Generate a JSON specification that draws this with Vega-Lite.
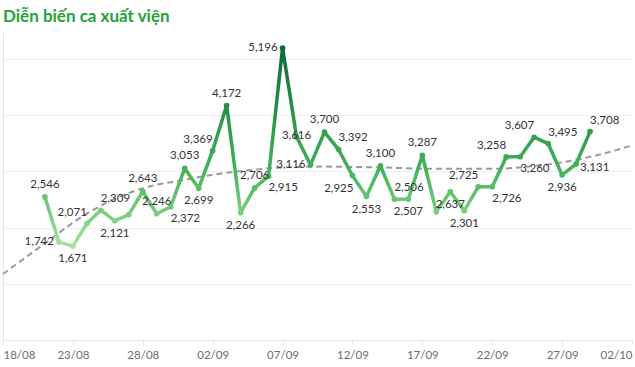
{
  "$schema": "https://vega.github.io/schema/vega-lite/v6.json",
  "width": 629,
  "height": 308,
  "autosize": {"type": "none"},
  "padding": {"left": 3, "top": 32, "right": 3, "bottom": 27},
  "background": "white",
  "config": {"view": {"stroke": null}},
  "title": {
    "text": "Diễn biến ca xuất viện",
    "anchor": "start",
    "font": "Lato",
    "fontSize": 17,
    "fontWeight": "bold",
    "color": "#22a336",
    "baseline": "alphabetic",
    "offset": 12,
    "dx": 4,
    "dy": 19
  },
  "data": {
    "values": [
      {"date": "2021-08-21", "value": 2546},
      {"date": "2021-08-22", "value": 1742},
      {"date": "2021-08-23", "value": 1671},
      {"date": "2021-08-24", "value": 2071},
      {"date": "2021-08-25", "value": 2309},
      {"date": "2021-08-26", "value": 2121},
      {"date": "2021-08-27", "value": 2230},
      {"date": "2021-08-28", "value": 2643},
      {"date": "2021-08-29", "value": 2246},
      {"date": "2021-08-30", "value": 2372},
      {"date": "2021-08-31", "value": 3053},
      {"date": "2021-09-01", "value": 2699},
      {"date": "2021-09-02", "value": 3369},
      {"date": "2021-09-03", "value": 4172},
      {"date": "2021-09-04", "value": 2266},
      {"date": "2021-09-05", "value": 2706},
      {"date": "2021-09-06", "value": 2915},
      {"date": "2021-09-07", "value": 5196},
      {"date": "2021-09-08", "value": 3616},
      {"date": "2021-09-09", "value": 3116},
      {"date": "2021-09-10", "value": 3700},
      {"date": "2021-09-11", "value": 3392},
      {"date": "2021-09-12", "value": 2925},
      {"date": "2021-09-13", "value": 2553},
      {"date": "2021-09-14", "value": 3100},
      {"date": "2021-09-15", "value": 2506},
      {"date": "2021-09-16", "value": 2507},
      {"date": "2021-09-17", "value": 3287},
      {"date": "2021-09-18", "value": 2280},
      {"date": "2021-09-19", "value": 2637},
      {"date": "2021-09-20", "value": 2301},
      {"date": "2021-09-21", "value": 2725},
      {"date": "2021-09-22", "value": 2726},
      {"date": "2021-09-23", "value": 3258},
      {"date": "2021-09-24", "value": 3260},
      {"date": "2021-09-25", "value": 3607},
      {"date": "2021-09-26", "value": 3495},
      {"date": "2021-09-27", "value": 2936},
      {"date": "2021-09-28", "value": 3131},
      {"date": "2021-09-29", "value": 3708}
    ]
  },
  "encoding": {
    "x": {
      "field": "date",
      "type": "temporal",
      "scale": {"type": "utc", "domain": [1629244800000, 1633132800000], "nice": false},
      "axis": {
        "title": null,
        "values": [1629244800000, 1629676800000, 1630108800000, 1630540800000, 1630972800000, 1631404800000, 1631836800000, 1632268800000, 1632700800000, 1633132800000],
        "format": "%d/%m",
        "labelFlush": true,
        "grid": false,
        "domainColor": "#e6e6e6",
        "tickColor": "#e6e6e6",
        "tickSize": 5,
        "labelColor": "#6e6e6e",
        "labelFont": "Lato",
        "labelFontSize": 11.5,
        "labelPadding": 4
      }
    },
    "y": {
      "field": "value",
      "type": "quantitative",
      "scale": {"domain": [0, 5480], "nice": false, "zero": true},
      "axis": {
        "title": null,
        "values": [0, 1000, 2000, 3000, 4000, 5000],
        "labels": false,
        "ticks": false,
        "grid": true,
        "gridColor": "#ededed",
        "domainColor": "#e6e6e6"
      }
    }
  },
  "layer": [
    {
      "data": {
        "values": [
          {"date": "2021-08-18", "value": 1174},
          {"date": "2021-08-21", "value": 1720},
          {"date": "2021-08-24", "value": 2250},
          {"date": "2021-08-28", "value": 2700},
          {"date": "2021-08-31", "value": 2850},
          {"date": "2021-09-02", "value": 2940},
          {"date": "2021-09-05", "value": 3030},
          {"date": "2021-09-07", "value": 3070},
          {"date": "2021-09-10", "value": 3085},
          {"date": "2021-09-14", "value": 3070},
          {"date": "2021-09-18", "value": 3045},
          {"date": "2021-09-22", "value": 3045},
          {"date": "2021-09-25", "value": 3095},
          {"date": "2021-09-27", "value": 3160},
          {"date": "2021-09-30", "value": 3320},
          {"date": "2021-10-02", "value": 3461}
        ]
      },
      "mark": {"type": "line", "color": "#9a9a9a", "strokeDash": [6, 4], "strokeWidth": 2, "interpolate": "monotone"}
    },
    {
      "mark": {
        "type": "line",
        "strokeWidth": 3.5,
        "strokeJoin": "round",
        "stroke": {
          "gradient": "linear",
          "x1": 0, "y1": 0, "x2": 0, "y2": 1,
          "stops": [
            {"offset": 0, "color": "#0a6b35"},
            {"offset": 0.62, "color": "#44b45a"},
            {"offset": 1, "color": "#a6e29c"}
          ]
        }
      }
    },
    {
      "mark": {"type": "circle", "size": 32, "opacity": 1},
      "encoding": {
        "color": {
          "field": "value",
          "type": "quantitative",
          "scale": {"domain": [1671, 3000, 5196], "range": ["#a6e29c", "#44b45a", "#0a6b35"], "interpolate": "rgb"},
          "legend": null
        }
      }
    },
    {
      "transform": [{"filter": {"field": "value", "oneOf": [2546, 2643, 2246, 3053, 4172, 2706, 3700, 3100, 3287]}}],
      "mark": {"type": "text", "font": "Lato", "fontSize": 11.5, "color": "#333333", "align": "center", "baseline": "middle", "dy": -12},
      "encoding": {"text": {"field": "value", "type": "quantitative", "format": ","}}
    },
    {
      "transform": [{"filter": {"field": "value", "oneOf": [1671, 2121, 2699, 2266, 2553, 2637, 2301, 2936, 2507]}}],
      "mark": {"type": "text", "font": "Lato", "fontSize": 11.5, "color": "#333333", "align": "center", "baseline": "middle", "dy": 13},
      "encoding": {"text": {"field": "value", "type": "quantitative", "format": ","}}
    },
    {
      "transform": [{"filter": {"field": "value", "oneOf": [1742, 5196, 3116]}}],
      "mark": {"type": "text", "font": "Lato", "fontSize": 11.5, "color": "#333333", "align": "right", "baseline": "middle", "dx": -5, "dy": 0},
      "encoding": {"text": {"field": "value", "type": "quantitative", "format": ","}}
    },
    {
      "transform": [{"filter": {"field": "value", "oneOf": [3131]}}],
      "mark": {"type": "text", "font": "Lato", "fontSize": 11.5, "color": "#333333", "align": "left", "baseline": "middle", "dx": 4, "dy": 4},
      "encoding": {"text": {"field": "value", "type": "quantitative", "format": ","}}
    },
    {
      "transform": [{"filter": {"field": "value", "oneOf": [3616]}}],
      "mark": {"type": "text", "font": "Lato", "fontSize": 11.5, "color": "#333333", "align": "center", "baseline": "middle", "dy": -1},
      "encoding": {"text": {"field": "value", "type": "quantitative", "format": ","}}
    },
    {
      "transform": [{"filter": {"field": "value", "oneOf": [2071, 3369, 2725, 3258, 3607]}}],
      "mark": {"type": "text", "font": "Lato", "fontSize": 11.5, "color": "#333333", "align": "right", "baseline": "middle", "dx": 0, "dy": -11},
      "encoding": {"text": {"field": "value", "type": "quantitative", "format": ","}}
    },
    {
      "transform": [{"filter": {"field": "value", "oneOf": [2309, 3392, 2506, 3495, 3708]}}],
      "mark": {"type": "text", "font": "Lato", "fontSize": 11.5, "color": "#333333", "align": "left", "baseline": "middle", "dx": 0, "dy": -11},
      "encoding": {"text": {"field": "value", "type": "quantitative", "format": ","}}
    },
    {
      "transform": [{"filter": {"field": "value", "oneOf": [2372, 2915, 2726, 3260]}}],
      "mark": {"type": "text", "font": "Lato", "fontSize": 11.5, "color": "#333333", "align": "left", "baseline": "middle", "dx": 0, "dy": 12},
      "encoding": {"text": {"field": "value", "type": "quantitative", "format": ","}}
    },
    {
      "transform": [{"filter": {"field": "value", "oneOf": [2925]}}],
      "mark": {"type": "text", "font": "Lato", "fontSize": 11.5, "color": "#333333", "align": "right", "baseline": "middle", "dx": 1, "dy": 13},
      "encoding": {"text": {"field": "value", "type": "quantitative", "format": ","}}
    }
  ]
}
